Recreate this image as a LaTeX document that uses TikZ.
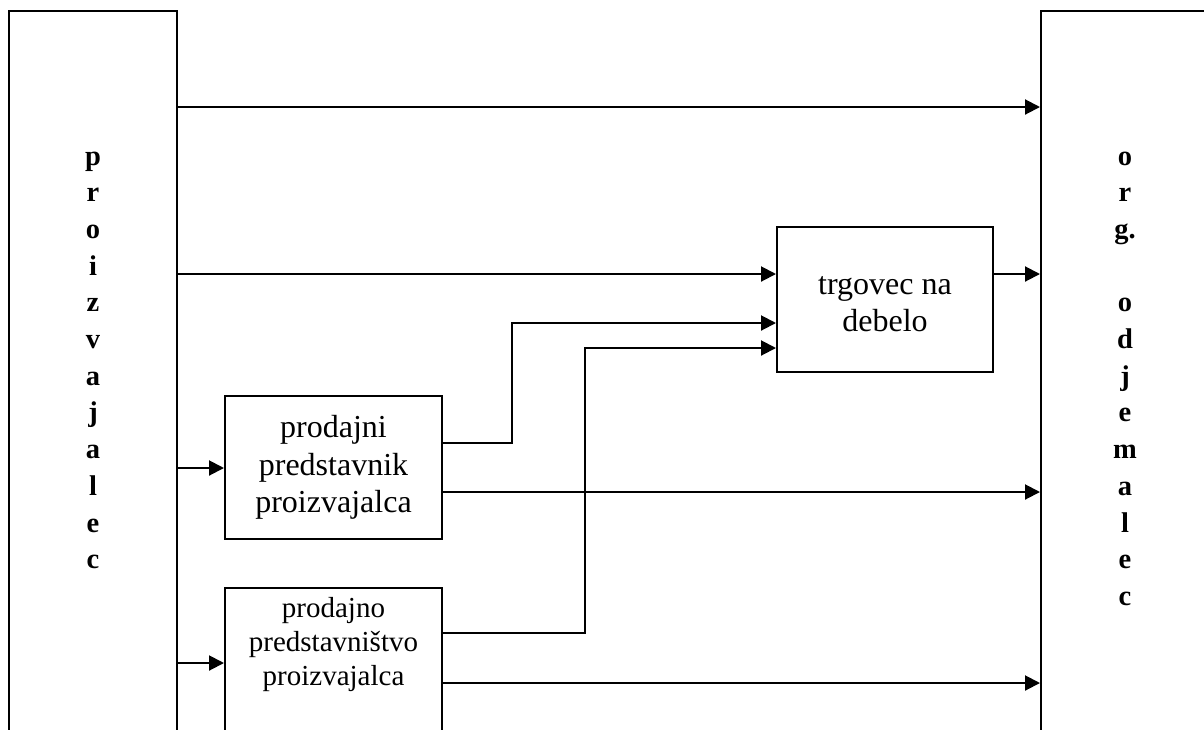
\documentclass[tikz,border=0pt]{standalone}
\usepackage{fontspec}
\setmainfont{Liberation Serif}
\usetikzlibrary{arrows.meta}
\begin{document}
\begin{tikzpicture}[x=1pt,y=-1pt,
  line width=2pt,
  arr/.style={-{Triangle[length=15pt,width=15pt]}},
  bigbox/.style={draw, minimum height=789pt, inner sep=0pt},
  boxline/.style={draw, inner sep=0pt},
  boxtext/.style={inner sep=0pt, align=center, font=\fontsize{32}{37.5}\selectfont},
  lettr/.style={anchor=base, font=\fontsize{28.5}{34}\selectfont\bfseries, inner sep=0pt}
]
\clip (0,0) rectangle (1204,729);
\fill[white] (0,0) rectangle (1204,729);
% big side boxes (open at the bottom / right edge of the picture)
\node[bigbox, minimum width=168pt] (prod) at (93,405.5) {};
\node[bigbox, minimum width=219pt] (odj) at (1150.5,405.5) {};
% vertical letters
\foreach \c [count=\i from 0] in {p,r,o,i,z,v,a,j,a,l,e,c}
  \node[lettr] (L\i) at (93,{165+36.7*\i}) {\c};
\foreach \c/\k in {o/0,r/1,g./2,o/4,d/5,j/6,e/7,m/8,a/9,l/10,e/11,c/12}
  \node[lettr] (R\k) at (1125,{165+36.7*\k}) {\c};
% middle boxes
\node[boxline, minimum width=216pt, minimum height=145pt] (trg) at (885,299.5) {};
\node[boxtext] (trgtext) at (885,304) {trgovec na\\debelo};
\node[boxline, minimum width=217pt, minimum height=143pt] (psn) at (333.5,467.5) {};
\node[boxtext] (psntext) at (333.5,467.5) {prodajni\\predstavnik\\proizvajalca};
\node[boxline, minimum width=217pt, minimum height=200pt] (pst) at (333.5,688) {};
\node[boxtext, font=\fontsize{29}{34}\selectfont] (psttext) at (333.5,645) {prodajno\\predstavništvo\\proizvajalca};
% levels
\coordinate (ya) at (0,107);
\coordinate (yb) at (0,274);
\coordinate (yc) at (0,468);
\coordinate (yd) at (0,663);
\coordinate (ye) at (0,443);
\coordinate (yf) at (0,323);
\coordinate (yg) at (0,633);
\coordinate (yh) at (0,348);
\coordinate (yi) at (0,492);
\coordinate (yj) at (0,683);
\coordinate (xe) at (512,0);
\coordinate (xg) at (585,0);
% connectors
\draw[arr] (prod.east |- ya) -- (odj.west |- ya);
\draw[arr] (prod.east |- yb) -- (trg.west |- yb);
\draw[arr] (trg.east |- yb) -- (odj.west |- yb);
\draw[arr] (prod.east |- yc) -- (psn.west |- yc);
\draw[arr] (prod.east |- yd) -- (pst.west |- yd);
\draw[arr] (psn.east |- ye) -| (xe |- yf) -- (trg.west |- yf);
\draw[arr] (pst.east |- yg) -| (xg |- yh) -- (trg.west |- yh);
\draw[arr] (psn.east |- yi) -- (odj.west |- yi);
\draw[arr] (pst.east |- yj) -- (odj.west |- yj);
\end{tikzpicture}
\end{document}
